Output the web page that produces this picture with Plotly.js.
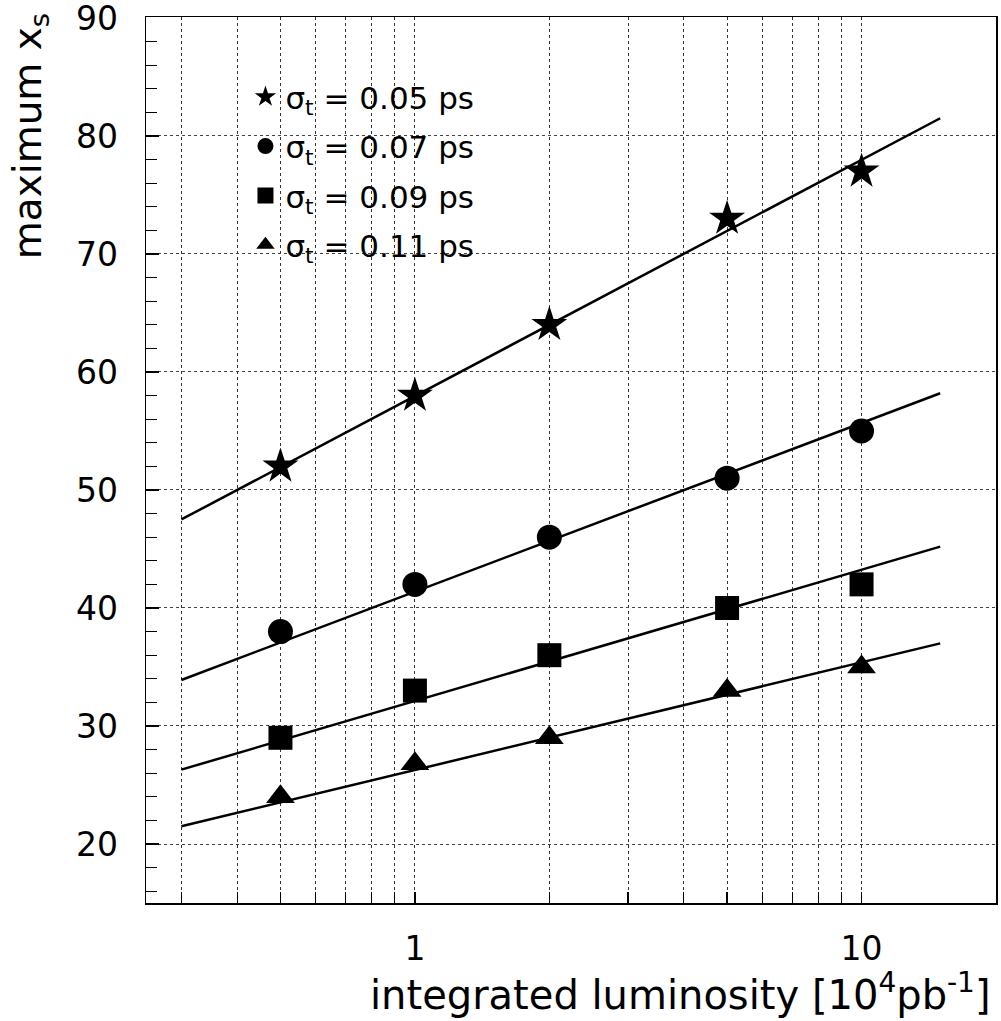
<!DOCTYPE html>
<html>
<head>
<meta charset="utf-8">
<script src="https://cdn.plot.ly/plotly-3.0.1.min.js"></script>
<style>html,body{margin:0;padding:0;background:#fff;}#chart{width:1001px;height:1021px;}</style>
</head>
<body>
<div id="chart"></div>
<script>
// Data
const luminosity = [0.5, 1, 2, 5, 10];
const xs005 = [52, 58, 64, 73, 77];
const xs007 = [38, 42, 46, 51, 55];
const xs009 = [29, 33, 36, 40, 42];
const xs011 = [24, 26.8, 29, 33, 35];

// Fitted lines (end points)
const fitX = [0.3, 15];
const fit005 = [47.5, 81.5];
const fit007 = [33.9, 58.2];
const fit009 = [26.3, 45.2];
const fit011 = [21.5, 37.0];

const seriesNames = ['σ<sub>t</sub> = 0.05 ps', 'σ<sub>t</sub> = 0.07 ps', 'σ<sub>t</sub> = 0.09 ps', 'σ<sub>t</sub> = 0.11 ps'];
const xMajorTicks = [1, 10];
const xMajorLabels = ['1', '10'];
const xMinorTicks = [0.3, 0.4, 0.5, 0.6, 0.7, 0.8, 0.9, 2, 3, 4, 5, 6, 7, 8, 9];
const yTicks = [20, 30, 40, 50, 60, 70, 80, 90];

const FONT = 'DejaVu Sans, Liberation Sans, sans-serif';

const pointSets = [xs005, xs007, xs009, xs011];
const fitSets = [fit005, fit007, fit009, fit011];
const symbols = ['star', 'circle', 'square', 'triangle-up'];
const sizes = [27, 25, 24, 25];

const traces = [];
fitSets.forEach(function (f) {
  traces.push({x: fitX, y: f, mode: 'lines', line: {color: '#000', width: 2.5},
    showlegend: false, hoverinfo: 'skip'});
});
pointSets.forEach(function (p, i) {
  traces.push({x: luminosity, y: p, mode: 'markers', name: seriesNames[i], legendgroup: 'g' + i,
    marker: {symbol: symbols[i], size: sizes[i], color: '#000', line: {width: 0}}});
});

const layout = {
  width: 1001, height: 1021,
  margin: {l: 146, r: 5, t: 17, b: 118},
  paper_bgcolor: '#fff', plot_bgcolor: '#fff',
  font: {family: FONT, color: '#000', size: 32},
  showlegend: true,
  legend: {x: 0.117, y: 0.94, xanchor: 'left', yanchor: 'top', bgcolor: 'rgba(0,0,0,0)',
    font: {family: FONT, size: 31, color: '#000'}, itemsizing: 'trace', tracegroupgap: 6},
  xaxis: {
    type: 'log', range: [Math.log10(0.25), Math.log10(20)],
    tickmode: 'array', tickvals: xMajorTicks, ticktext: xMajorLabels,
    ticks: 'inside', ticklen: 11, tickwidth: 1.2, tickcolor: '#000',
    ticklabelstandoff: 16,
    showgrid: true, gridcolor: '#333', gridwidth: 1, griddash: 'dot',
    minor: {tickmode: 'array', tickvals: xMinorTicks, ticks: 'inside', ticklen: 11,
      tickwidth: 1.2, tickcolor: '#000', showgrid: true, gridcolor: '#333', gridwidth: 1, griddash: 'dot'},
    showline: true, linecolor: '#000', linewidth: 1.5, mirror: true,
    zeroline: false, tickfont: {family: FONT, size: 33, color: '#000'}
  },
  yaxis: {
    range: [15, 90.08],
    tickmode: 'array', tickvals: yTicks,
    ticks: 'inside', ticklen: 13, tickwidth: 1.5, tickcolor: '#000',
    ticklabelstandoff: 20, ticklabeloverflow: 'allow',
    showgrid: true, gridcolor: '#444', gridwidth: 1, griddash: 'dot',
    minor: {dtick: 2, ticks: 'inside', ticklen: 11, tickwidth: 1, tickcolor: '#000', showgrid: false},
    showline: true, linecolor: '#000', linewidth: 1.5, mirror: true,
    zeroline: false, tickfont: {family: FONT, size: 33, color: '#000'}
  },
  annotations: [
    {text: 'maximum x<sub>s</sub>', xref: 'paper', yref: 'paper', x: -0.137, y: 0.865,
      xanchor: 'center', yanchor: 'middle', textangle: -90, showarrow: false,
      font: {family: FONT, size: 39, color: '#000'}},
    {text: 'integrated luminosity [10<sup>4</sup>pb<sup>-1</sup>]', xref: 'paper', yref: 'paper',
      x: 0.997, y: -0.1, xanchor: 'right', yanchor: 'middle', showarrow: false,
      font: {family: FONT, size: 40, color: '#000'}}
  ]
};

Plotly.newPlot('chart', traces, layout, {displayModeBar: false, staticPlot: true});
</script>
</body>
</html>
